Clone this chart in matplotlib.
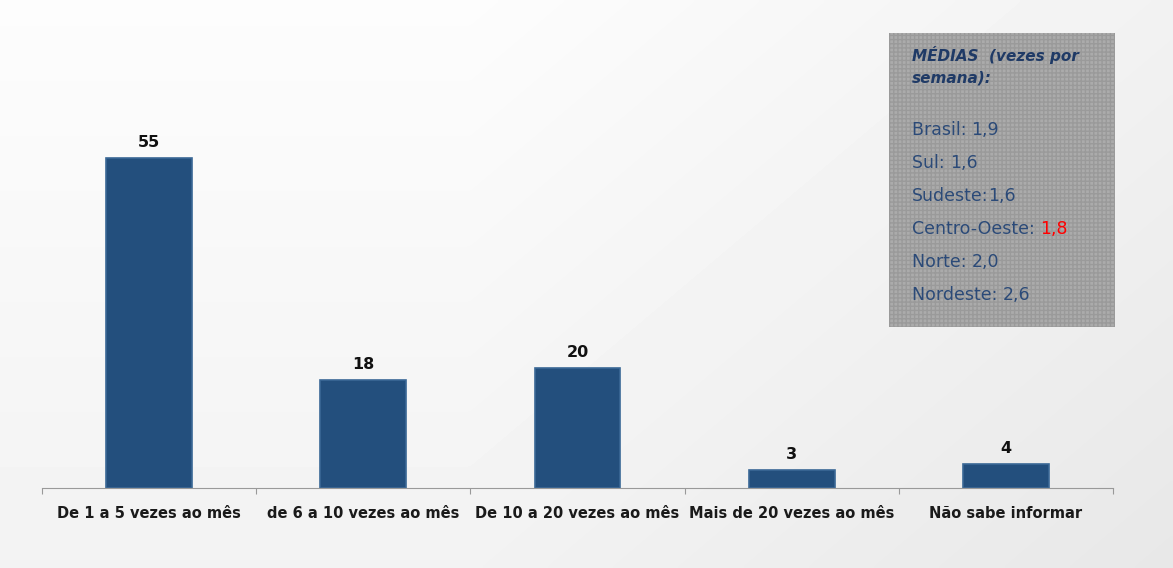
import numpy as np
import matplotlib.pyplot as plt
from matplotlib.patches import Rectangle

# dados
categorias = ['De 1 a 5 vezes ao mês', 'de 6 a 10 vezes ao mês', 'De 10 a 20 vezes ao mês',
              'Mais de 20 vezes ao mês', 'Não sabe informar']
valores = [55, 18, 20, 3, 4]
medias_titulo = 'MÉDIAS  (vezes por\nsemana):'
medias_regioes = ['Brasil: ', 'Sul: ', 'Sudeste:', 'Centro-Oeste: ', 'Norte: ', 'Nordeste: ']
medias_valores = ['1,9', '1,6', '1,6', '1,8', '2,0', '2,6']

fig = plt.figure(figsize=(11.73, 5.68), dpi=100, facecolor='#efefef')

# fundo em degradê
bg = fig.add_axes([0, 0, 1, 1], zorder=0)
gx = np.linspace(0, 1, 300)
gy = np.linspace(0, 1, 150)
X, Y = np.meshgrid(gx, gy)
grad = 0.99 - 0.07 * np.clip(X - 0.4, 0, 1) - 0.04 * Y
bg.imshow(grad, cmap='gray', vmin=0, vmax=1, extent=[0, 1, 0, 1], aspect='auto',
          origin='upper', interpolation='bilinear')
bg.set_xlim(0, 1)
bg.set_ylim(0, 1)
bg.axis('off')

ax = fig.add_axes([42 / 1173, 80 / 568, 1071 / 1173, 468 / 568], zorder=1)
ax.patch.set_alpha(0)
x = np.arange(len(categorias))
bars = ax.bar(x, valores, width=0.4, color='#234f7d', edgecolor='#3a6896', linewidth=1.2)
for b, v in zip(bars, valores):
    ax.text(b.get_x() + b.get_width() / 2, v + 1.3, str(v), ha='center', va='bottom',
            fontsize=11.5, fontweight='heavy', color='#111111')

ax.set_xlim(-0.5, len(categorias) - 0.5)
ax.set_ylim(0, 78)
ax.set_yticks([])
for s in ['top', 'right', 'left']:
    ax.spines[s].set_visible(False)
ax.spines['bottom'].set_color('#999999')
ax.set_xticks(np.arange(-0.5, len(categorias), 1), minor=False)
ax.set_xticklabels([])
ax.tick_params(axis='x', length=4, color='#999999')
ax.set_xticks(x, minor=True)
ax.set_xticklabels(categorias, minor=True, fontsize=10.5, fontweight='bold', color='#1a1a1a')
ax.tick_params(axis='x', which='minor', length=0, pad=13)

# caixa de médias
box = fig.add_axes([889 / 1173, (568 - 327) / 568, 226 / 1173, 294 / 568], zorder=2)
box.set_xlim(0, 1)
box.set_ylim(0, 1)
box.add_patch(Rectangle((0, 0), 1, 1, facecolor='#ababab', edgecolor='#9a9a9a',
                        hatch='++++', linewidth=0))
box.axis('off')
box.text(0.1, 0.955, medias_titulo, fontsize=11, fontweight='bold', style='italic',
         color='#1f3a66', va='top', linespacing=1.55)
for i, (r, v) in enumerate(zip(medias_regioes, medias_valores)):
    yy = 0.67 - i * 0.112
    t = box.text(0.1, yy, r, fontsize=12.5, color='#2b4a78', va='center')
    fig.canvas.draw()
    bb = t.get_window_extent().transformed(box.transAxes.inverted())
    cor = 'red' if r.startswith('Centro') else '#2b4a78'
    box.text(bb.x1, yy, v, fontsize=12.5, color=cor, va='center')

fig.savefig('out.png', dpi=100, facecolor=fig.get_facecolor())
